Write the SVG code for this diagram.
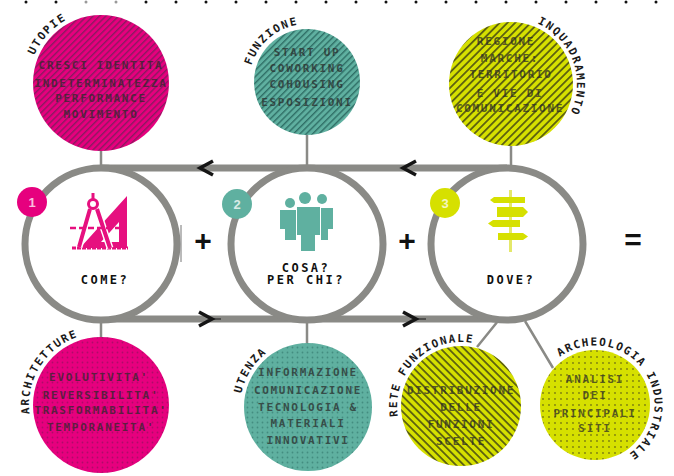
<svg xmlns="http://www.w3.org/2000/svg" width="674" height="476" viewBox="0 0 674 476">
<style>
.ring{fill:#fff;stroke:#8a8a86;stroke-width:7}
.bar{fill:none;stroke:#8a8a86;stroke-width:7}
.link{fill:none;stroke:#8a8a86;stroke-width:2.5}
.chev{fill:none;stroke:#151515;stroke-width:3.5}
.tail{fill:none;stroke:#151515;stroke-width:1}
.in{font-family:"DejaVu Sans Mono","Liberation Mono",monospace;font-size:11px;font-weight:bold;fill:#2a2a2a;text-anchor:middle;letter-spacing:1.7px;opacity:.72}
.cap{font-family:"DejaVu Sans Mono","Liberation Mono",monospace;font-size:11px;font-weight:bold;fill:#1a1a1a;letter-spacing:1.6px}
.q{font-family:"DejaVu Sans Mono","Liberation Mono",monospace;font-size:12px;font-weight:bold;fill:#111;text-anchor:middle;letter-spacing:2.5px}
.n{font-family:"Liberation Sans",sans-serif;font-size:13px;font-weight:bold;fill:#fff;text-anchor:middle;opacity:.75}
.op{font-family:"Liberation Sans",sans-serif;font-size:30px;font-weight:bold;fill:#111;text-anchor:middle}
</style>
<defs>
<pattern id="hm" width="4.5" height="4.5" patternUnits="userSpaceOnUse" patternTransform="rotate(-45)"><rect width="4.5" height="4.5" fill="#e6007e"/><rect width="4.5" height="1.4" fill="#8a1a60"/></pattern>
<pattern id="ht" width="4.5" height="4.5" patternUnits="userSpaceOnUse" patternTransform="rotate(-45)"><rect width="4.5" height="4.5" fill="#5fb0a0"/><rect width="4.5" height="1.4" fill="#2f6f66"/></pattern>
<pattern id="hy" width="5.5" height="5.5" patternUnits="userSpaceOnUse" patternTransform="rotate(-45)"><rect width="5.5" height="5.5" fill="#d6e000"/><rect width="5.5" height="1.8" fill="#5c6010"/></pattern>
<pattern id="hy2" width="5.5" height="5.5" patternUnits="userSpaceOnUse" patternTransform="rotate(45)"><rect width="5.5" height="5.5" fill="#d6e000"/><rect width="5.5" height="1.8" fill="#5c6010"/></pattern>
<pattern id="dm" width="5" height="5" patternUnits="userSpaceOnUse"><rect width="5" height="5" fill="#e6007e"/><circle cx="2.5" cy="2.5" r=".9" fill="#b00a68"/></pattern>
<pattern id="dt" width="5" height="5" patternUnits="userSpaceOnUse"><rect width="5" height="5" fill="#5fb0a0"/><circle cx="2.5" cy="2.5" r=".9" fill="#438d80"/></pattern>
<pattern id="dy" width="6" height="6" patternUnits="userSpaceOnUse"><rect width="6" height="6" fill="#d6e000"/><circle cx="3" cy="3" r=".9" fill="#7a7c10"/></pattern>
<path id="p1" d="M34.5 55.3A72 72 0 0 1 76.4 15.3"/>
<path id="p2" d="M251.4 65.6A58 58 0 0 1 307 24"/>
<path id="p3" d="M537.4 23.5A66 66 0 0 1 561.6 126.4"/>
<path id="p4" d="M29.5 413.8A72 72 0 0 1 101 333"/>
<path id="p5" d="M241.4 393.4A68 68 0 0 1 284.7 343.1"/>
<path id="p6" d="M397.9 416.5A64 64 0 0 1 488 348"/>
<path id="p7" d="M560 356.9A59.5 59.5 0 1 1 615.3 460.9"/>
</defs>

<g id="connectors">
<path class="link" d="M101 150V168M307 135V168M511 146V168M101 319V338M307 319V344M498 321L477 347M525 321L553 368"/>
<path class="bar" d="M101 168H507M101 319H507"/>
<path class="chev" d="M213 161L200 168L213 175M416 161L403 168L416 175M199 312L212 319L199 326M403 312L416 319L403 326"/>
<path class="tail" d="M212 319H221M416 319H426"/>
</g>

<g id="dots" fill="#111">
<circle cx="26" cy="2" r="1.5"/><circle cx="56" cy="2" r="1.5"/><circle cx="86" cy="2" r="1.5" fill="#999"/><circle cx="116" cy="2" r="1.5" fill="#999"/><circle cx="146" cy="2" r="1.5"/><circle cx="176" cy="2" r="1.5"/><circle cx="206" cy="2" r="1.5"/><circle cx="236" cy="2" r="1.5"/><circle cx="266" cy="2" r="1.5"/><circle cx="296" cy="2" r="1.5"/><circle cx="326" cy="2" r="1.5"/><circle cx="356" cy="2" r="1.5"/><circle cx="386" cy="2" r="1.5"/><circle cx="416" cy="2" r="1.5"/><circle cx="446" cy="2" r="1.5"/><circle cx="476" cy="2" r="1.5"/><circle cx="506" cy="2" r="1.5"/><circle cx="536" cy="2" r="1.5"/><circle cx="566" cy="2" r="1.5"/><circle cx="596" cy="2" r="1.5"/><circle cx="626" cy="2" r="1.5"/><circle cx="656" cy="2" r="1.5"/>
</g>

<g id="utopie">
<circle cx="101" cy="83" r="68" fill="url(#hm)"/>
<text class="in" x="101" y="69">CRESCI IDENTITA</text><text class="in" x="101" y="87">INDETERMINATEZZA</text><text class="in" x="101" y="102">PERFORMANCE</text><text class="in" x="101" y="118">MOVIMENTO</text>
<text class="cap"><textPath href="#p1">UTOPIE</textPath></text>
</g>
<g id="funzione">
<circle cx="307" cy="82" r="53" fill="url(#ht)"/>
<text class="in" x="307" y="56">START UP</text><text class="in" x="307" y="72">COWORKING</text><text class="in" x="307" y="88">COHOUSING</text><text class="in" x="307" y="106">ESPOSIZIONI</text>
<text class="cap"><textPath href="#p2">FUNZIONE</textPath></text>
</g>
<g id="inquadramento">
<circle cx="511" cy="84" r="62" fill="url(#hy)"/>
<text class="in" x="506" y="45">REGIONE</text><text class="in" x="510" y="62">MARCHE:</text><text class="in" x="511" y="78">TERRITORIO</text><text class="in" x="510" y="97">E VIE DI</text><text class="in" x="510" y="112">COMUNICAZIONE</text>
<text class="cap"><textPath href="#p3">INQUADRAMENTO</textPath></text>
</g>

<g id="come">
<circle class="ring" cx="101" cy="244" r="76"/>
<path d="M181 225V262" stroke="#777" stroke-width="1"/>
<circle cx="32" cy="202" r="15" fill="#e6007e"/><text class="n" x="32" y="207">1</text>
<path d="M127 196V248H80Z M119 222L101 242H119Z" fill="#e6107f" fill-rule="evenodd"/>
<path d="M72 248H128" stroke="#e6107f" stroke-width="3" stroke-dasharray="4 1"/>
<path d="M90 209L79 247M97 209L110 248" fill="none" stroke="#fff" stroke-width="7"/>
<path d="M90 209L79 247M97 209L110 248" fill="none" stroke="#e6107f" stroke-width="4"/>
<path d="M93 193V199" stroke="#e6107f" stroke-width="3"/>
<circle cx="93" cy="204" r="4.5" fill="#fff" stroke="#e6107f" stroke-width="3"/>
<path d="M70 228H120" fill="none" stroke="#e6107f" stroke-width="2.5" stroke-dasharray="6 3"/>
<text class="q" x="105" y="284">COME?</text>
</g>
<g id="cosa">
<circle class="ring" cx="307" cy="244" r="76"/>
<circle cx="237" cy="204" r="15" fill="#5fb0a0"/><text class="n" x="237" y="209">2</text>
<g fill="#5fb0a0">
<circle cx="290" cy="203" r="5"/><circle cx="305" cy="198" r="6"/><circle cx="322" cy="199" r="5"/>
<path d="M280 210H296V240H285V229H280Z"/>
<path d="M297 207H320V235H315V251H301V235H297Z"/>
<path d="M321 208H333V229H328V240H321Z"/>
</g>
<text class="q" x="306" y="272">COSA?</text><text class="q" x="306" y="284">PER CHI?</text>
</g>
<g id="dove">
<circle class="ring" cx="507" cy="244" r="76"/>
<circle cx="445" cy="203" r="15" fill="#d6e000"/><text class="n" x="445" y="208">3</text>
<rect x="509" y="190" width="3" height="62" fill="#e4e86a"/>
<g fill="#d6e000">
<path d="M490 200L494 197H525V203H494Z"/><path d="M497 207H523L528 212L523 217H497Z"/><path d="M488 223.5L493 220H520V227H493Z"/><path d="M498 233H523L528 236.5L523 240H498Z"/>
</g>
<text class="q" x="511" y="284">DOVE?</text>
</g>
<g id="plus1"><text class="op" x="203" y="251">+</text></g>
<g id="plus2"><text class="op" x="407" y="251">+</text></g>
<g id="equals"><text class="op" x="633" y="250">=</text></g>

<g id="architetture">
<circle cx="101" cy="405" r="68" fill="url(#dm)"/>
<text class="in" x="99" y="381">EVOLUTIVITA'</text><text class="in" x="101" y="399">REVERSIBILITA'</text><text class="in" x="101" y="414">TRASFORMABILITA'</text><text class="in" x="101" y="431">TEMPORANEITA'</text>
<text class="cap"><textPath href="#p4">ARCHITETTURE</textPath></text>
</g>
<g id="utenza">
<circle cx="308" cy="407" r="64" fill="url(#dt)"/>
<text class="in" x="308" y="376">INFORMAZIONE</text><text class="in" x="308" y="394">COMUNICAZIONE</text><text class="in" x="308" y="411">TECNOLOGIA &amp;</text><text class="in" x="308" y="427">MATERIALI</text><text class="in" x="308" y="444">INNOVATIVI</text>
<text class="cap"><textPath href="#p5">UTENZA</textPath></text>
</g>
<g id="rete">
<circle cx="461" cy="406" r="60" fill="url(#hy2)"/>
<text class="in" x="461" y="394">DISTRIBUZIONE</text><text class="in" x="461" y="411">DELLE</text><text class="in" x="461" y="428">FUNZIONI</text><text class="in" x="461" y="445">SCELTE</text>
<text class="cap"><textPath href="#p6">RETE FUNZIONALE</textPath></text>
</g>
<g id="archeologia">
<circle cx="595" cy="405" r="55" fill="url(#dy)"/>
<text class="in" x="595" y="383">ANALISI</text><text class="in" x="595" y="399">DEI</text><text class="in" x="595" y="417">PRINCIPALI</text><text class="in" x="595" y="432">SITI</text>
<text class="cap"><textPath href="#p7">ARCHEOLOGIA INDUSTRIALE</textPath></text>
</g>
</svg>
